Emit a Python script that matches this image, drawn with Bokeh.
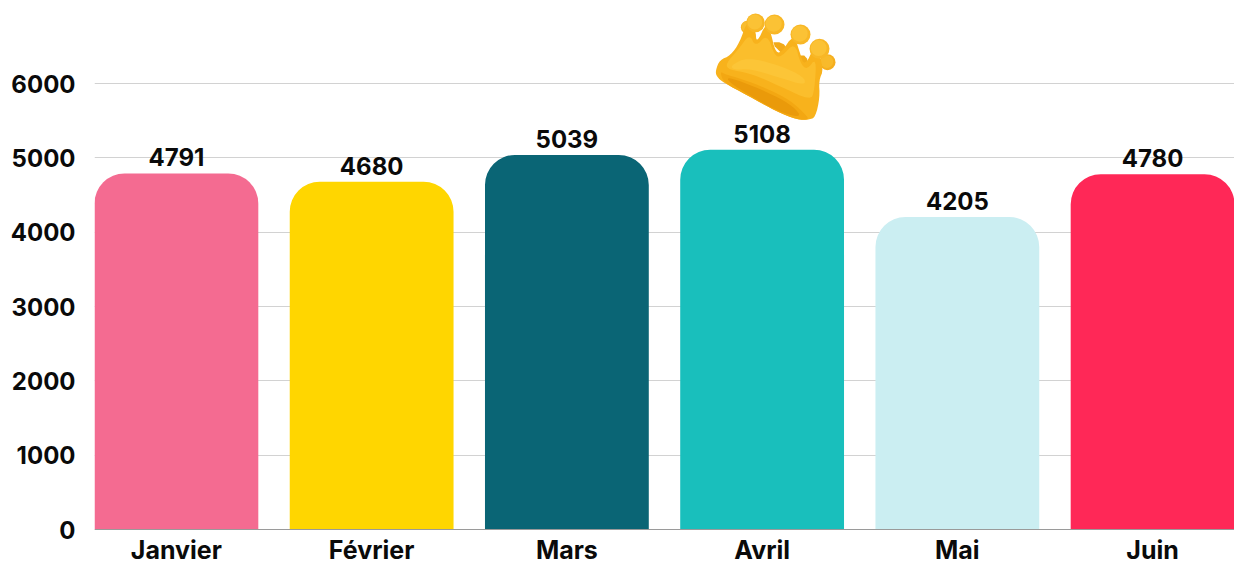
from bokeh.plotting import figure
from bokeh.models import Range1d, ColumnDataSource, FixedTicker
from bokeh.core.properties import value
from bokeh.embed import file_html
from bokeh.resources import INLINE

months = ["Janvier", "Février", "Mars", "Avril", "Mai", "Juin"]
visits = [4791, 4680, 5039, 5108, 4205, 4780]
colors = ["#F46B91", "#FFD600", "#0A6575", "#19BFBC", "#CBEEF2", "#FF2857"]
y_ticks = [0, 1000, 2000, 3000, 4000, 5000, 6000]
FONT = "Inter"
INK = "#0A0A0A"
pos = list(range(len(months)))

p = figure(width=1234, height=565, x_range=Range1d(-0.4195, 5.4195),
           y_range=Range1d(-484.3, 7117), output_backend="svg", toolbar_location=None,
           min_border_left=94, min_border_right=0, min_border_top=0, min_border_bottom=0)
p.outline_line_color = None
p.background_fill_color = "white"
p.border_fill_color = "white"
p.xgrid.visible = False
p.ygrid.grid_line_color = "#D2D2D2"
p.ygrid.grid_line_width = 1
p.ygrid.ticker = FixedTicker(ticks=y_ticks[1:])
p.yaxis.ticker = FixedTicker(ticks=y_ticks)
p.xaxis.ticker = FixedTicker(ticks=pos)
p.xaxis.major_label_overrides = dict(zip(pos, months))
p.xaxis.fixed_location = 0

for ax in (p.xaxis[0], p.yaxis[0]):
    ax.major_tick_line_color = None
    ax.major_tick_in = 0
    ax.major_tick_out = 0
    ax.minor_tick_line_color = None
    ax.minor_tick_in = 0
    ax.minor_tick_out = 0
    ax.major_label_text_font = FONT
    ax.major_label_text_font_style = "bold"
    ax.major_label_text_font_size = "24px"
    ax.major_label_text_color = INK
p.xaxis.major_label_text_font_size = "25px"
p.yaxis.axis_line_color = None
p.yaxis.major_label_standoff = 19
p.xaxis.axis_line_color = "#9A9A9A"
p.xaxis.major_label_standoff = 5

src = ColumnDataSource(dict(x=pos, month=months, visits=visits, color=colors, label=[str(v) for v in visits]))
p.vbar(x="x", top="visits", width=0.839, fill_color="color", line_color=None,
       border_radius=(30, 30, 0, 0), source=src)
p.text(x="x", y="visits", text="label", source=src, text_align="center", text_baseline="middle",
       y_offset=-16, text_font=value(FONT), text_font_style="bold", text_font_size="24px",
       text_color=INK)

# Crown decoration, drawn in a pixel-like coordinate range that overlays the frame
p.extra_x_ranges["deco"] = Range1d(94, 1234)
p.extra_y_ranges["deco"] = Range1d(565, 0)
def zx(v): return [680 + a / 3 for a in v]
def zy(v): return [a / 3 for a in v]
deco = dict(x_range_name="deco", y_range_name="deco", line_color=None)

def smooth(xs, ys, n=2):
    pts = list(zip(xs, ys))
    for _ in range(n):
        out = []
        for i, a in enumerate(pts):
            b = pts[(i + 1) % len(pts)]
            out.append((0.75 * a[0] + 0.25 * b[0], 0.75 * a[1] + 0.25 * b[1]))
            out.append((0.25 * a[0] + 0.75 * b[0], 0.25 * a[1] + 0.75 * b[1]))
        pts = out
    return [q[0] for q in pts], [q[1] for q in pts]

def blob(xs, ys, color, n=2):
    sx, sy = smooth(xs, ys, n)
    p.patch(zx(sx), zy(sy), fill_color=color, **deco)

def ball(cx, cy, r, base, light):
    p.circle(zx([cx]), zy([cy]), radius=r / 3, radius_dimension="x", fill_color=base, **deco)
    p.circle(zx([cx - r * 0.08]), zy([cy - r * 0.08]), radius=r * 0.8 / 3, radius_dimension="x", fill_color=light, **deco)

ball(200, 80, 19, "#F5B324", "#F8BD2F")
ball(441, 185, 24, "#F5AE1E", "#F8BA2B")
blob([270, 305, 325, 320], [125, 125, 150, 175], "#F2AA18", 1)
blob([345, 380, 380, 350], [165, 165, 205, 205], "#F2AA18", 1)
# body
blob([105, 118, 150, 178, 200, 225, 228, 258, 272, 283, 300, 340, 356, 372, 405, 430, 415, 418, 405, 385, 350, 290, 200, 130, 108],
     [210, 178, 165, 125, 60, 85, 130, 65, 100, 150, 160, 100, 150, 200, 130, 205, 240, 290, 350, 358, 358, 334, 284, 247, 228],
     "#F8B21C")
blob([135, 175, 207, 225, 260, 282, 302, 343, 360, 380, 408, 402, 390, 300, 210, 145],
     [190, 145, 100, 140, 100, 165, 170, 125, 190, 208, 170, 270, 300, 258, 218, 208],
     "#FBBE2C")
blob([150, 200, 300, 372, 374, 300, 210, 160], [195, 170, 195, 230, 255, 232, 205, 208], "#FCC537")
# opening
blob([118, 135, 180, 260, 330, 368, 388, 350, 290, 200, 130],
     [212, 222, 234, 264, 300, 335, 358, 358, 334, 284, 247], "#F3A712")
blob([138, 180, 258, 328, 362, 340, 280, 200, 150],
     [230, 242, 274, 310, 344, 348, 326, 280, 248], "#EA9A0A")
ball(225, 67, 28, "#F8B726", "#FBC235")
ball(282, 72, 30, "#F8B726", "#FBC235")
ball(360, 102, 30, "#F8B726", "#FBC235")
ball(417, 145, 30, "#F8B726", "#FBC235")

open("out.html", "w").write(file_html(p, INLINE))
